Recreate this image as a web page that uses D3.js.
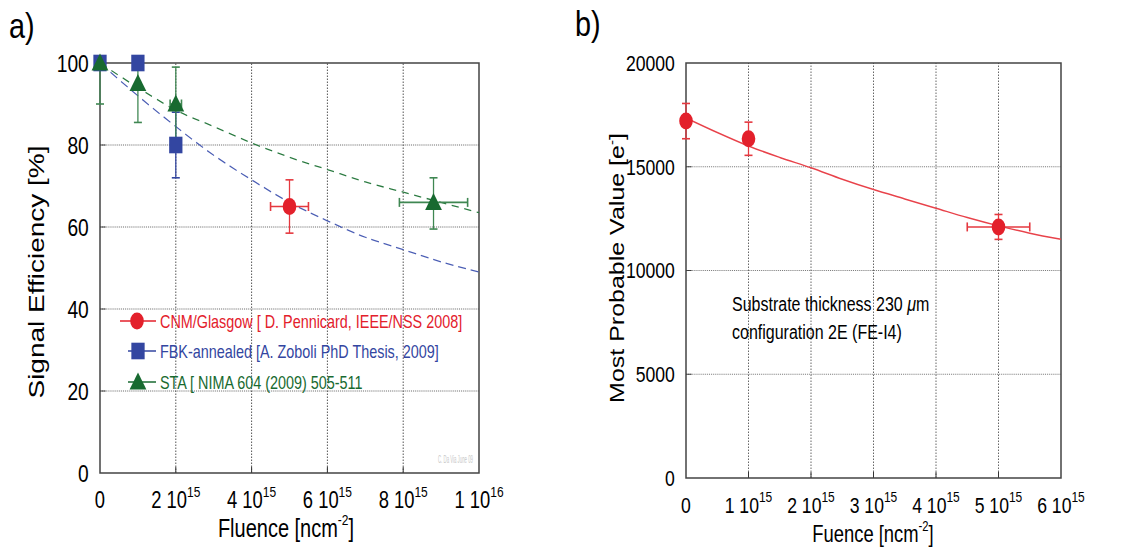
<!DOCTYPE html>
<html>
<head>
<meta charset="utf-8">
<script src="https://cdn.jsdelivr.net/npm/d3@7"></script>
<style>
body { margin: 0; background: #fff; }
text { font-family: "Liberation Sans", Arial, sans-serif; }
</style>
</head>
<body>
<script>
// fluence values are in units of 1e15 n/cm2

// panel a) signal efficiency
var cnmX = [5], cnmY = [65], cnmXErr = [0.5], cnmYErr = [6.5];
var fbkX = [0, 1, 2], fbkY = [100, 100, 80], fbkYErr = [0, 0, 8];
var staX = [0, 1, 2, 8.8], staY = [100, 95, 90, 66],
    staXErr = [0, 0, 0.15, 0.9],
    staYLo = [10, 9.5, 9.5, 6.5], staYHi = [0, 5, 9, 6];
var fitX = [0, 1, 2, 3, 4, 5, 6, 7, 8, 9, 10];
var fitFbkY = [100, 92, 84.5, 77.5, 71.5, 66, 61.5, 57.5, 54.5, 51.5, 49];
var fitStaY = [100, 94, 88.5, 84.5, 80.5, 77, 74, 71, 68.5, 66, 63.5];
var effTicks = [0, 20, 40, 60, 80, 100];
var fluTicksA = [0, 2, 4, 6, 8, 10];
var fluLabelsA = [["0", ""], ["2 10", "15"], ["4 10", "15"], ["6 10", "15"], ["8 10", "15"], ["1 10", "16"]];
var legendNames = ["CNM/Glasgow [ D. Pennicard, IEEE/NSS 2008]",
                   "FBK-annealed [A. Zoboli PhD Thesis, 2009]",
                   "STA [ NIMA 604 (2009) 505-511"];

// panel b) most probable value
var mpvX = [0, 1, 5], mpvY = [17200, 16350, 12100],
    mpvXErr = [0, 0, 0.5], mpvYErr = [850, 800, 600];
var mpvFitX = [0, 0.5, 1, 1.5, 2, 2.5, 3, 3.5, 4, 4.5, 5, 5.5, 6];
var mpvFitY = [17350, 16650, 16000, 15450, 14950, 14400, 13900, 13450, 13000, 12550, 12150, 11800, 11500];
var mpvTicks = [0, 5000, 10000, 15000, 20000];
var fluTicksB = [0, 1, 2, 3, 4, 5, 6];
var fluLabelsB = [["0", ""], ["1 10", "15"], ["2 10", "15"], ["3 10", "15"], ["4 10", "15"], ["5 10", "15"], ["6 10", "15"]];

var red = "#e3202b", blue = "#3346a1", green = "#186a30";

// the whole figure is squeezed horizontally
var sx = 0.8;

window.onload = drawFigure;

function drawFigure(){
    var svg = d3.select("body").append("svg")
        .attr("width", 1127)
        .attr("height", 552);

    var g = svg.append("g").attr("transform", "scale(" + sx + ",1)");

    drawPanelA(g);
    drawPanelB(g);
};

// frame, grid, ticks and tick labels for one panel
function drawFrame(g, x, y, xTicks, xLabels, yTicks, gridColor, tickSize, xSup, ySize){
    var x0 = x.range()[0], x1 = x.range()[1],
        y0 = y.range()[0], y1 = y.range()[1];

    // dotted grid
    g.selectAll(null).data(xTicks.slice(1, -1)).enter().append("line")
        .attr("x1", d => x(d)).attr("x2", d => x(d))
        .attr("y1", y0).attr("y2", y1)
        .attr("stroke", gridColor).attr("stroke-dasharray", "1.5,1.5")
        .attr("vector-effect", "non-scaling-stroke");
    g.selectAll(null).data(yTicks.slice(1, -1)).enter().append("line")
        .attr("x1", x0).attr("x2", x1)
        .attr("y1", d => y(d)).attr("y2", d => y(d))
        .attr("stroke", gridColor).attr("stroke-dasharray", "1.2,1.2");

    // small solid ticks
    g.selectAll(null).data(xTicks.slice(1, -1)).enter().append("line")
        .attr("x1", d => x(d)).attr("x2", d => x(d))
        .attr("y1", y0).attr("y2", y0 - 6)
        .attr("stroke", "#333").attr("vector-effect", "non-scaling-stroke");
    g.selectAll(null).data(yTicks.slice(1, -1)).enter().append("line")
        .attr("x1", x0).attr("x2", x0 + 7)
        .attr("y1", d => y(d)).attr("y2", d => y(d))
        .attr("stroke", "#333");

    // box
    g.append("rect")
        .attr("x", x0).attr("y", y1)
        .attr("width", x1 - x0).attr("height", y0 - y1)
        .attr("fill", "none").attr("stroke", "#444").attr("stroke-width", 1.5)
        .attr("vector-effect", "non-scaling-stroke");

    // y tick labels
    g.selectAll(null).data(yTicks).enter().append("text")
        .attr("x", x0 - 14)
        .attr("y", d => y(d))
        .attr("dy", "0.36em")
        .attr("text-anchor", "end")
        .attr("font-size", ySize)
        .text(d => d);

    // x tick labels with power of ten
    var lab = g.selectAll(null).data(xTicks).enter().append("text")
        .attr("x", d => x(d))
        .attr("y", y0 + 35)
        .attr("text-anchor", "middle")
        .attr("font-size", tickSize);
    lab.append("tspan").text((d, i) => xLabels[i][0]);
    lab.append("tspan")
        .attr("dy", -11)
        .attr("font-size", xSup)
        .text((d, i) => xLabels[i][1]);
};

function errorBar(g, x, y, px, py, xe, ylo, yhi, color){
    var cy = 4.5, cx = 5;
    if (ylo > 0 || yhi > 0){
        g.append("line")
            .attr("x1", x(px)).attr("x2", x(px))
            .attr("y1", y(py - ylo)).attr("y2", y(py + yhi))
            .attr("stroke", color).attr("stroke-width", 1.6);
        [py - ylo, py + yhi].forEach(function(v){
            if (v == py) return;
            g.append("line")
                .attr("x1", x(px) - cx).attr("x2", x(px) + cx)
                .attr("y1", y(v)).attr("y2", y(v))
                .attr("stroke", color).attr("stroke-width", 1.6);
        });
    }
    if (xe > 0){
        g.append("line")
            .attr("x1", x(px - xe)).attr("x2", x(px + xe))
            .attr("y1", y(py)).attr("y2", y(py))
            .attr("stroke", color).attr("stroke-width", 1.6);
        [px - xe, px + xe].forEach(function(v){
            g.append("line")
                .attr("x1", x(v)).attr("x2", x(v))
                .attr("y1", y(py) - cy).attr("y2", y(py) + cy)
                .attr("stroke", color).attr("stroke-width", 2);
        });
    }
};

function marker(g, type, cx, cy, color){
    if (type == "circle"){
        g.append("circle").attr("cx", cx).attr("cy", cy).attr("r", 8.5).attr("fill", color);
    } else if (type == "square"){
        g.append("rect").attr("x", cx - 8.3).attr("y", cy - 8.3)
            .attr("width", 16.6).attr("height", 16.6).attr("fill", color);
    } else {
        g.append("path")
            .attr("d", "M" + cx + "," + (cy - 9.5) + "L" + (cx + 10.5) + "," + (cy + 7.5) + "L" + (cx - 10.5) + "," + (cy + 7.5) + "Z")
            .attr("fill", color);
    }
};

function drawPanelA(g){
    var x = d3.scaleLinear().domain([0, 10]).range([100 / sx, 479 / sx]);
    var y = d3.scaleLinear().domain([0, 100]).range([473, 63]);

    g.append("text").attr("x", 9 / sx).attr("y", 38)
        .attr("font-size", 36).text("a)");

    drawFrame(g, x, y, fluTicksA, fluLabelsA, effTicks, "#555", 23, 15, 24);

    // watermark
    g.append("text")
        .attr("x", 438 / sx).attr("y", 463)
        .attr("font-size", 10)
        .attr("fill", "#c8c8c8")
        .attr("textLength", 35 / sx)
        .attr("lengthAdjust", "spacingAndGlyphs")
        .text("C. Da Via June 09");

    // axis titles
    g.append("text")
        .attr("transform", "translate(" + (44 / sx) + ",272) rotate(-90)")
        .attr("text-anchor", "middle")
        .attr("font-size", 28)
        .text("Signal Efficiency [%]");
    var xt = g.append("text")
        .attr("x", 286 / sx).attr("y", 537)
        .attr("text-anchor", "middle")
        .attr("font-size", 25);
    xt.append("tspan").text("Fluence [ncm");
    xt.append("tspan").attr("dy", -12).attr("font-size", 15).text("-2");
    xt.append("tspan").attr("dy", 12).text("]");

    // dashed fits
    var line = d3.line().x(d => x(d[0])).y(d => y(d[1])).curve(d3.curveMonotoneX);
    g.append("path")
        .datum(fitX.map((v, i) => [v, fitFbkY[i]]))
        .attr("d", line)
        .attr("fill", "none").attr("stroke", "#4a5db4").attr("stroke-width", 1.3)
        .attr("stroke-dasharray", "10,6");
    g.append("path")
        .datum(fitX.map((v, i) => [v, fitStaY[i]]))
        .attr("d", line)
        .attr("fill", "none").attr("stroke", "#2a7a40").attr("stroke-width", 1.3)
        .attr("stroke-dasharray", "9,7");

    // error bars
    cnmX.forEach(function(v, i){ errorBar(g, x, y, v, cnmY[i], cnmXErr[i], cnmYErr[i], cnmYErr[i], "#e5383f"); });
    fbkX.forEach(function(v, i){ errorBar(g, x, y, v, fbkY[i], 0, fbkYErr[i], fbkYErr[i], blue); });
    staX.forEach(function(v, i){ errorBar(g, x, y, v, staY[i], staXErr[i], staYLo[i], staYHi[i], "#3f8752"); });

    // markers
    fbkX.forEach(function(v, i){ marker(g, "square", x(v), y(fbkY[i]), blue); });
    staX.forEach(function(v, i){ marker(g, "triangle", x(v), y(staY[i]), green); });
    cnmX.forEach(function(v, i){ marker(g, "circle", x(v), y(cnmY[i]), red); });

    // legend
    var legTypes = ["circle", "square", "triangle"],
        legColors = [red, blue, green],
        legY = [321, 351, 382],
        legX1 = [120, 128, 128];
    legTypes.forEach(function(t, i){
        g.append("line")
            .attr("x1", legX1[i] / sx).attr("x2", 156 / sx)
            .attr("y1", legY[i]).attr("y2", legY[i])
            .attr("stroke", legColors[i]).attr("stroke-width", 1.5);
        marker(g, t, (i == 0 ? 137 : 138) / sx, legY[i], legColors[i]);
        g.append("text")
            .attr("x", 160 / sx).attr("y", legY[i] + 7)
            .attr("font-size", 18)
            .attr("fill", legColors[i])
            .text(legendNames[i]);
    });
};

function drawPanelB(g){
    var x = d3.scaleLinear().domain([0, 6]).range([686 / sx, 1061 / sx]);
    var y = d3.scaleLinear().domain([0, 20000]).range([478, 63]);

    g.append("text").attr("x", 575 / sx).attr("y", 36)
        .attr("font-size", 36).text("b)");

    drawFrame(g, x, y, fluTicksB, fluLabelsB, mpvTicks, "#666", 22, 15, 22);

    // axis titles
    var yt = g.append("text")
        .attr("transform", "translate(" + (624 / sx) + ",268) rotate(-90)")
        .attr("text-anchor", "middle")
        .attr("font-size", 25);
    yt.append("tspan").text("Most Probable Value [e");
    yt.append("tspan").attr("dy", -10).attr("font-size", 15).text("-");
    yt.append("tspan").attr("dy", 10).text("]");

    var xt = g.append("text")
        .attr("x", 873 / sx).attr("y", 542)
        .attr("text-anchor", "middle")
        .attr("font-size", 23);
    xt.append("tspan").text("Fuence [ncm");
    xt.append("tspan").attr("dy", -11).attr("font-size", 14).text("-2");
    xt.append("tspan").attr("dy", 11).text("]");

    // annotation
    var a1 = g.append("text").attr("x", 732 / sx).attr("y", 311).attr("font-size", 20);
    a1.append("tspan").text("Substrate thickness 230 ");
    a1.append("tspan").attr("font-style", "italic").text("\u03bc");
    a1.append("tspan").text("m");
    g.append("text").attr("x", 732 / sx).attr("y", 339).attr("font-size", 20)
        .text("configuration 2E (FE-I4)");

    // fit
    var line = d3.line().x(d => x(d[0])).y(d => y(d[1])).curve(d3.curveMonotoneX);
    g.append("path")
        .datum(mpvFitX.map((v, i) => [v, mpvFitY[i]]))
        .attr("d", line)
        .attr("fill", "none").attr("stroke", "#e8424a").attr("stroke-width", 1.5);

    mpvX.forEach(function(v, i){
        errorBar(g, x, y, v, mpvY[i], mpvXErr[i], mpvYErr[i], mpvYErr[i], "#e5383f");
        marker(g, "circle", x(v), y(mpvY[i]), red);
    });
};
</script>
</body>
</html>
